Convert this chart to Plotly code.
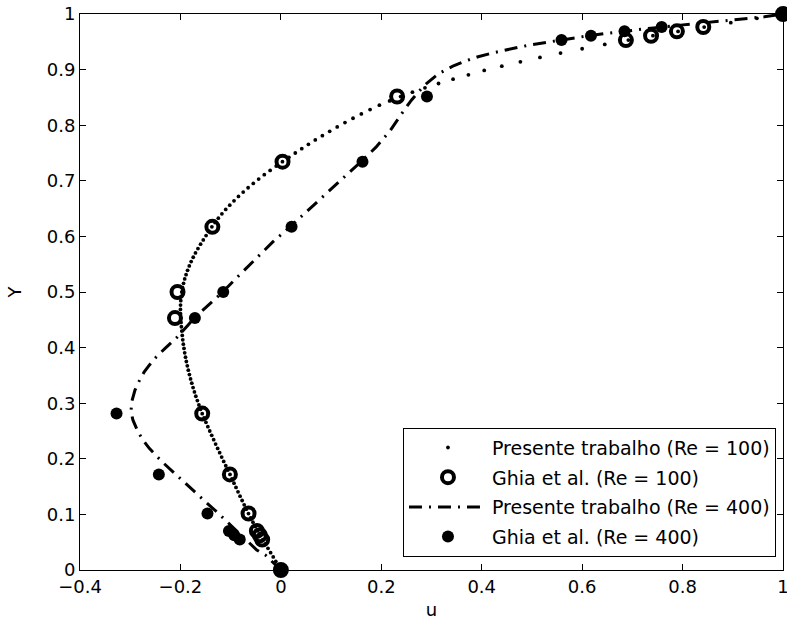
import plotly.graph_objects as go

# ---------------- data ----------------
# Present work, Re = 100 (grid nodes, vertical centreline)
y_re100 = [0.0, 0.00781, 0.01563, 0.02344, 0.03125, 0.03906, 0.04688, 0.05469, 0.0625, 0.07031,
           0.07813, 0.08594, 0.09375, 0.10156, 0.10938, 0.11719, 0.125, 0.13281, 0.14063, 0.14844,
           0.15625, 0.16406, 0.17188, 0.17969, 0.1875, 0.19531, 0.20313, 0.21094, 0.21875, 0.22656,
           0.23438, 0.24219, 0.25, 0.25781, 0.26563, 0.27344, 0.28125, 0.28906, 0.29688, 0.30469,
           0.3125, 0.32031, 0.32813, 0.33594, 0.34375, 0.35156, 0.35938, 0.36719, 0.375, 0.38281,
           0.39063, 0.39844, 0.40625, 0.41406, 0.42188, 0.42969, 0.4375, 0.44531, 0.45313, 0.46094,
           0.46875, 0.47656, 0.48438, 0.49219, 0.5, 0.50781, 0.51563, 0.52344, 0.53125, 0.53906,
           0.54688, 0.55469, 0.5625, 0.57031, 0.57813, 0.58594, 0.59375, 0.60156, 0.60938, 0.61719,
           0.625, 0.63281, 0.64063, 0.64844, 0.65625, 0.66406, 0.67188, 0.67969, 0.6875, 0.69531,
           0.70313, 0.71094, 0.71875, 0.72656, 0.73438, 0.74219, 0.75, 0.75781, 0.76563, 0.77344,
           0.78125, 0.78906, 0.79688, 0.80469, 0.8125, 0.82031, 0.82813, 0.83594, 0.84375, 0.85156,
           0.85938, 0.86719, 0.875, 0.88281, 0.89063, 0.89844, 0.90625, 0.91406, 0.92188, 0.92969,
           0.9375, 0.94531, 0.95313, 0.96094, 0.96875, 0.97656, 0.98438, 0.99219, 1.0]
u_re100 = [0.0, -0.0050, -0.0101, -0.0152, -0.0204, -0.0256, -0.0308, -0.0360, -0.0411, -0.0461,
           -0.0509, -0.0556, -0.0601, -0.0645, -0.0688, -0.0730, -0.0771, -0.0812, -0.0853, -0.0893,
           -0.0933, -0.0973, -0.1013, -0.1055, -0.1097, -0.1138, -0.1179, -0.1219, -0.1259, -0.1299,
           -0.1338, -0.1377, -0.1416, -0.1454, -0.1492, -0.1529, -0.1566, -0.1600, -0.1632, -0.1663,
           -0.1693, -0.1721, -0.1748, -0.1774, -0.1798, -0.1821, -0.1843, -0.1863, -0.1882, -0.1899,
           -0.1915, -0.1929, -0.1942, -0.1954, -0.1964, -0.1973, -0.1981, -0.1988, -0.1994, -0.1998,
           -0.2000, -0.1998, -0.1993, -0.1985, -0.1973, -0.1957, -0.1938, -0.1915, -0.1888, -0.1858,
           -0.1824, -0.1786, -0.1745, -0.1700, -0.1651, -0.1599, -0.1545, -0.1489, -0.1432, -0.1374,
           -0.1312, -0.1245, -0.1174, -0.1098, -0.1018, -0.0933, -0.0844, -0.0750, -0.0652, -0.0549,
           -0.0442, -0.0330, -0.0214, -0.0093, 0.0032, 0.0160, 0.0287, 0.0416, 0.0549, 0.0686,
           0.0827, 0.0972, 0.1122, 0.1277, 0.1437, 0.1603, 0.1777, 0.1962, 0.2165, 0.2385,
           0.2620, 0.2870, 0.3140, 0.3430, 0.3735, 0.4050, 0.4400, 0.4770, 0.5160, 0.5570,
           0.6000, 0.6450, 0.6920, 0.7410, 0.7910, 0.8430, 0.8960, 0.9480, 1.0]

# Present work, Re = 400
y_re400 = [0.0, 0.012, 0.027, 0.036, 0.05, 0.0868, 0.1048, 0.1227, 0.1407, 0.1527, 0.1617,
           0.1767, 0.1917, 0.2007, 0.2187, 0.2336, 0.2485, 0.2695, 0.2845, 0.3025, 0.3235,
           0.3384, 0.3564, 0.3684, 0.3833, 0.40, 0.4192, 0.4403, 0.455, 0.4864, 0.5, 0.53,
           0.56, 0.59, 0.617, 0.65, 0.68, 0.71, 0.734, 0.76, 0.79, 0.82, 0.845, 0.865, 0.875,
           0.8925, 0.9074, 0.915, 0.9227, 0.93, 0.935, 0.94, 0.945, 0.95, 0.955, 0.96, 0.965,
           0.97, 0.975, 0.98, 0.985, 0.99, 0.995, 1.0]
u_re400 = [0.0, -0.0146, -0.031, -0.048, -0.064, -0.107, -0.128, -0.150, -0.172, -0.186, -0.198,
           -0.216, -0.233, -0.243, -0.262, -0.2745, -0.2845, -0.2945, -0.2985, -0.2970, -0.2905,
           -0.2830, -0.2720, -0.2620, -0.2480, -0.2290, -0.2060, -0.1850, -0.1705, -0.1320, -0.1160, -0.083,
           -0.050, -0.016, 0.018, 0.058, 0.094, 0.130, 0.159, 0.189, 0.2175, 0.240, 0.260, 0.279, 0.290,
           0.314, 0.345, 0.366, 0.391, 0.422, 0.446, 0.472, 0.501, 0.535, 0.570, 0.607, 0.648,
           0.693, 0.742, 0.796, 0.853, 0.912, 0.963, 1.0]

# Ghia et al. (1982)
y_ghia = [1.0, 0.9766, 0.9688, 0.9609, 0.9531, 0.8516, 0.7344, 0.6172, 0.5, 0.4531,
          0.2813, 0.1719, 0.1016, 0.0703, 0.0625, 0.0547, 0.0]
u_ghia100 = [1.0, 0.84123, 0.78871, 0.73722, 0.68717, 0.23151, 0.00332, -0.13641, -0.20581,
             -0.21090, -0.15662, -0.10150, -0.06434, -0.04775, -0.04192, -0.03717, 0.0]
u_ghia400 = [1.0, 0.75837, 0.68439, 0.61756, 0.55892, 0.29093, 0.16256, 0.02135, -0.11477,
             -0.17119, -0.32726, -0.24299, -0.14612, -0.10338, -0.09266, -0.08186, 0.0]

names = ["Presente trabalho (Re = 100)", "Ghia et al. (Re = 100)",
         "Presente trabalho (Re = 400)", "Ghia et al. (Re = 400)"]
x_ticks = [-0.4, -0.2, 0, 0.2, 0.4, 0.6, 0.8, 1]
x_ticklabels = ["\u22120.4", "\u22120.2", "0", "0.2", "0.4", "0.6", "0.8", "1"]
y_ticks = [0, 0.1, 0.2, 0.3, 0.4, 0.5, 0.6, 0.7, 0.8, 0.9, 1]
y_ticklabels = ["0", "0.1", "0.2", "0.3", "0.4", "0.5", "0.6", "0.7", "0.8", "0.9", "1"]

FONT = "DejaVu Sans"

fig = go.Figure()
fig.add_trace(go.Scatter(x=u_re100, y=y_re100, mode="markers", name=names[0],
                         legendgroup="a",
                         marker=dict(color="black", size=3.8, symbol="circle"),
                         cliponaxis=False))
fig.add_trace(go.Scatter(x=u_ghia100, y=y_ghia, mode="markers", name=names[1],
                         legendgroup="b",
                         marker=dict(color="black", size=12, symbol="circle-open",
                                     line=dict(width=4, color="black")),
                         cliponaxis=False))
fig.add_trace(go.Scatter(x=u_re400, y=y_re400, mode="lines", name=names[2],
                         legendgroup="c",
                         line=dict(color="black", width=3, dash="13px,7px,2px,7px"),
                         cliponaxis=False))
fig.add_trace(go.Scatter(x=u_ghia400, y=y_ghia, mode="markers", name=names[3],
                         legendgroup="d",
                         marker=dict(color="black", size=12, symbol="circle"),
                         cliponaxis=False))

axis_common = dict(showgrid=False, zeroline=False, showline=True, linecolor="black",
                   linewidth=1, mirror="ticks", ticks="inside", ticklen=6, tickwidth=1,
                   tickcolor="black", automargin=False, ticklabeloverflow="allow",
                   tickfont=dict(family=FONT, size=18, color="black"))

fig.update_layout(
    width=787, height=629,
    margin=dict(l=80, r=4, t=14, b=59, autoexpand=False),
    paper_bgcolor="white", plot_bgcolor="white",
    font=dict(family=FONT, size=18, color="black"),
    xaxis=dict(range=[-0.4, 1], tickvals=x_ticks, ticktext=x_ticklabels,
               title=dict(text="u", font=dict(family=FONT, size=18), standoff=7),
               **axis_common),
    yaxis=dict(range=[0, 1], tickvals=y_ticks, ticktext=y_ticklabels,
               title=dict(text="Y", font=dict(family=FONT, size=18), standoff=20),
               **axis_common),
    legend=dict(x=0.99, y=0.024, xanchor="right", yanchor="bottom",
                bgcolor="white", bordercolor="black", borderwidth=1,
                font=dict(family=FONT, size=19, color="black"),
                itemwidth=78, tracegroupgap=2, traceorder="grouped"),
    showlegend=True,
)

fig.write_html("out.html",
               config={"displayModeBar": False},
               post_script="document.body.style.margin='0';document.body.style.overflow='hidden';")
